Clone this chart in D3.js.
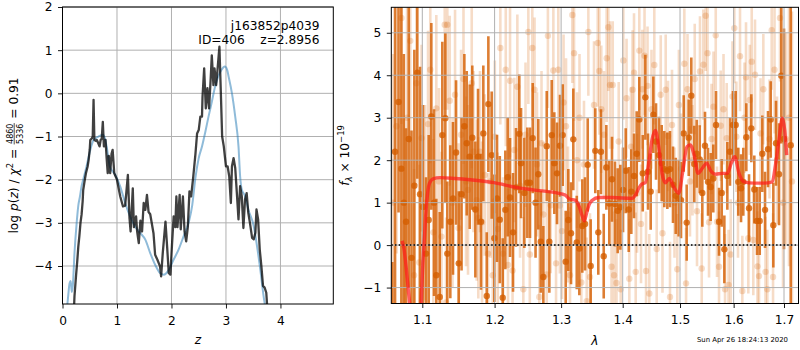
<!DOCTYPE html>
<html>
<head>
<meta charset="utf-8">
<script src="https://cdn.jsdelivr.net/npm/d3@7"></script>
<style>
  html, body { margin: 0; padding: 0; background: #fff; }
  svg { display: block; font-family: "DejaVu Sans", sans-serif; }
</style>
</head>
<body>
<svg id="fig" width="800" height="350"></svg>
<script>
// ---------- redshift fit: log p(z) ----------
const zChi = [0.20,0.22,0.25,0.27,0.29,0.31,0.33,0.35,0.37,0.38,0.41,0.43,0.46,0.48,0.50,0.51,0.54,0.555,0.57,0.585,0.61,0.63,0.655,0.68,0.70,0.72,0.74,0.76,0.79,0.81,0.83,0.85,0.875,0.90,0.92,0.95,1.00,1.06,1.11,1.15,1.20,1.23,1.25,1.29,1.31,1.35,1.37,1.40,1.43,1.46,1.49,1.52,1.55,1.58,1.61,1.67,1.70,1.74,1.79,1.81,1.84,1.89,1.92,1.95,1.98,2.01,2.04,2.07,2.09,2.11,2.15,2.17,2.21,2.24,2.27,2.30,2.33,2.36,2.40,2.44,2.47,2.50,2.53,2.56,2.57,2.60,2.63,2.66,2.69,2.72,2.74,2.77,2.79,2.82,2.845,2.88,2.90,2.93,2.96,3.00,3.03,3.06,3.09,3.11,3.14,3.17,3.20,3.23,3.26,3.29,3.32,3.35,3.38,3.41,3.44,3.48,3.51,3.54,3.56,3.59,3.62,3.65,3.68,3.71,3.74,3.76,3.80];
const logpChi = [-5.3,-4.7,-4.2,-3.9,-3.55,-3.3,-3.0,-2.81,-2.5,-2.24,-2.0,-1.85,-1.7,-1.54,-1.3,-1.08,-1.04,-1.0,-0.15,-1.08,-1.1,-1.08,-1.15,-1.23,-1.08,-1.05,-0.66,-1.23,-1.08,-1.5,-1.85,-1.45,-1.85,-1.4,-1.31,-1.85,-2.0,-2.39,-2.62,-2.6,-1.89,-2.9,-3.2,-2.2,-3.1,-2.85,-3.2,-3.47,-2.95,-3.2,-2.54,-2.7,-2.35,-2.75,-2.8,-3.24,-3.74,-3.85,-4.01,-4.24,-3.7,-2.97,-3.55,-4.16,-4.2,-3.5,-2.85,-3.1,-2.39,-3.1,-2.35,-3.15,-2.39,-3.2,-3.43,-3.1,-2.27,-2.39,-1.93,-1.4,-0.93,-0.85,-0.54,-0.54,-0.08,0.58,-0.35,0.12,-0.35,0.35,0.88,0.19,0.58,0.19,0.55,1.08,0.27,-1.0,-1.23,-1.69,-1.69,-1.92,-2.54,-1.69,-1.5,-1.73,-2.31,-2.92,-2.15,-2.38,-3.12,-2.46,-2.31,-2.77,-3.0,-3.35,-3.38,-3.23,-2.69,-2.92,-3.62,-4.0,-4.46,-4.5,-4.62,-5.0,-5.6];

const zPz = [0.08,0.10,0.13,0.15,0.17,0.19,0.22,0.26,0.29,0.32,0.35,0.38,0.44,0.51,0.57,0.66,0.74,0.78,0.81,0.87,0.97,1.06,1.15,1.24,1.33,1.43,1.52,1.61,1.70,1.79,1.86,1.95,2.04,2.13,2.22,2.32,2.38,2.44,2.50,2.56,2.62,2.68,2.74,2.80,2.86,2.92,2.98,3.02,3.05,3.11,3.17,3.23,3.26,3.29,3.35,3.41,3.51,3.57,3.63,3.69,3.72,3.75];
const logpPz = [-5.0,-4.75,-4.4,-4.35,-4.6,-4.45,-3.7,-3.0,-2.6,-2.39,-2.15,-2.0,-1.7,-1.31,-1.08,-1.0,-0.96,-1.05,-1.23,-1.7,-1.89,-2.16,-2.54,-2.85,-3.08,-3.24,-3.39,-3.7,-3.97,-4.16,-4.2,-4.09,-3.85,-3.62,-3.32,-2.97,-2.6,-1.95,-1.5,-1.23,-0.9,-0.54,-0.2,0.15,0.4,0.55,0.62,0.55,0.38,0.0,-0.54,-1.23,-1.92,-2.23,-2.38,-2.69,-3.08,-3.54,-4.08,-4.69,-4.95,-5.3];

const zTicks = [0, 1, 2, 3, 4];
const logpTicks = [2, 1, 0, -1, -2, -3, -4];

const objName = "j163852p4039";
const objId = 406;
const zBest = "2.8956";
const chi2 = 4860, nDof = 5336, chi2Red = "0.91";
const stamp = "Sun Apr 26 18:24:13 2020";

// ---------- 1D spectrum, flux in 1e-19 cgs ----------
const waveA = [1.061,1.0645,1.069,1.0726,1.0758,1.0787,1.0822,1.0858,1.0895,1.0934,1.0970,1.1009,1.1049,1.1085,1.1120,1.1156,1.1187,1.1233,1.1268,1.1309,1.1336,1.1377,1.1414,1.1456,1.1493,1.1532,1.1571,1.1604,1.1646,1.1682,1.1725,1.1763,1.1805,1.1838,1.1887,1.1910,1.1958,1.1996,1.2035,1.2075,1.2118,1.2156,1.2191,1.2225,1.2269,1.2313,1.2362,1.2388,1.2437,1.2482,1.2522,1.2563,1.2606,1.2648,1.2685,1.2725,1.2777,1.2817,1.2854,1.2894,1.2936,1.2983,1.3025,1.3072,1.3113,1.3156,1.3192,1.3247,1.3288,1.3336,1.3380,1.3423,1.3471,1.3546,1.3595,1.3639,1.3684,1.3727,1.3776,1.3821,1.3871,1.3916,1.3960,1.4006,1.4051,1.4102,1.4146,1.4192,1.4238,1.4283,1.4342,1.4387,1.4433,1.4480,1.4526,1.4573,1.4626,1.4673,1.4719,1.4773,1.4820,1.4874,1.4923,1.4976,1.5018,1.5067,1.5121,1.5158,1.5205,1.5260,1.5305,1.5360,1.5408,1.5458,1.5514,1.5564,1.5613,1.5664,1.5721,1.5772,1.5822,1.5879,1.5930,1.5988,1.6040,1.6090,1.6143,1.6187,1.6246,1.6299,1.6344,1.6403,1.6457,1.6510,1.6562,1.6616,1.6676,1.6730,1.6783,1.6837,1.6898,1.6945,1.7000,1.7138];
const fluxA = [-1.6,2.2,3.37,1.8,1.0,0.55,2.5,-0.3,1.4,4.06,1.2,0.9,-0.2,0.59,3.03,1.0,-0.71,-1.22,2.59,2.99,-0.2,0.55,1.1,2.18,-0.43,1.2,2.8,2.4,2.08,2.53,0.84,2.08,0.55,2.63,-1.2,3.32,2.12,0.16,1.1,0.6,-1.24,0.83,1.6,1.12,0.3,1.36,2.62,1.93,1.23,1.47,1.47,2.52,1.0,1.67,0.08,-0.75,2.33,0.08,2.59,1.93,1.69,2.34,2.59,-0.39,0.59,0.28,2.49,0.06,-0.08,0.45,0.5,1.89,-0.49,2.22,0.3,2.2,-0.26,1.83,0.98,1.55,0.97,0.81,0.89,1.3,1.75,0.84,1.26,1.63,2.15,2.96,1.69,3.48,1.73,1.26,3.07,2.44,2.12,1.93,1.79,1.75,1.79,1.42,1.16,1.1,1.06,2.63,0.53,2.53,3.52,1.91,2.15,2.02,1.23,2.34,1.49,1.37,1.57,2.83,0.55,1.23,-0.1,1.63,2.2,2.83,2.83,1.49,1.34,1.49,2.54,0.87,2.75,1.31,0.57,0.57,2.15,0.83,2.26,2.96,0.47,2.4,1.67,3.99,2.5,2.35];
const errA = [1.2,4.0,2.6,4.0,3.5,2.2,3.5,3.0,3.2,2.5,3.0,2.4,1.8,2.0,2.2,2.2,1.8,2.0,2.2,2.0,1.7,1.8,1.8,1.7,1.7,1.8,1.7,1.7,1.7,1.7,1.6,1.6,1.6,1.6,1.5,1.6,1.5,1.5,1.5,1.5,1.4,1.4,1.4,1.4,1.4,1.4,1.4,1.3,1.3,1.3,1.3,1.3,1.3,1.3,1.2,1.2,1.3,1.2,1.3,1.2,1.2,1.2,1.2,1.2,1.2,1.2,1.2,1.1,1.1,1.1,1.1,1.1,1.1,1.0,1.0,1.0,1.0,1.0,1.0,1.0,1.0,1.0,1.0,1.0,1.0,1.0,1.0,1.0,1.0,1.0,0.9,1.0,0.9,0.9,0.9,0.9,0.9,0.9,0.9,0.9,0.9,0.9,0.9,0.9,0.9,0.9,0.9,0.9,0.9,0.9,0.8,0.8,0.8,0.8,0.8,0.8,0.8,0.8,0.8,0.8,0.8,0.8,0.8,0.8,0.8,0.8,0.8,0.8,0.8,0.8,0.8,0.8,0.8,0.8,0.9,0.9,0.9,0.9,1.0,1.0,1.2,1.6,2.6,4.5,4.5];

const waveB = [1.0619,1.0664,1.0727,1.0761,1.0800,1.0842,1.0891,1.0921,1.0960,1.0990,1.1036,1.1076,1.1106,1.1147,1.1187,1.1223,1.1257,1.1301,1.1319,1.1336,1.1369,1.1407,1.1442,1.1490,1.1525,1.1559,1.1594,1.1622,1.1674,1.1699,1.1744,1.1767,1.1791,1.1820,1.1858,1.1905,1.1941,1.1973,1.2003,1.2045,1.2083,1.2122,1.2162,1.2195,1.2225,1.2262,1.2288,1.2333,1.2373,1.2422,1.2455,1.2497,1.2519,1.2557,1.2591,1.2628,1.2663,1.2697,1.2725,1.2777,1.2795,1.2838,1.2879,1.2921,1.2956,1.2980,1.3014,1.3038,1.3077,1.3108,1.3140,1.3177,1.3204,1.3251,1.3291,1.3320,1.3363,1.3407,1.3433,1.3460,1.3525,1.3586,1.3612,1.3644,1.3689,1.3733,1.3760,1.3788,1.3813,1.3833,1.3855,1.3896,1.3933,1.3967,1.4011,1.4065,1.4112,1.4141,1.4167,1.4192,1.4221,1.4244,1.4283,1.4312,1.4335,1.4373,1.4399,1.4425,1.4456,1.4494,1.4543,1.4585,1.4656,1.4687,1.4744,1.4785,1.4820,1.4856,1.4901,1.4951,1.4980,1.5018,1.5078,1.5109,1.5136,1.5181,1.5227,1.5268,1.5310,1.5365,1.5397,1.5427,1.5471,1.5505,1.5533,1.5580,1.5617,1.5659,1.5683,1.5721,1.5753,1.5806,1.5835,1.5867,1.5902,1.5944,1.5978,1.6013,1.6052,1.6084,1.6123,1.6168,1.6211,1.6240,1.6285,1.6314,1.6352,1.6383,1.6417,1.6466,1.6496,1.6526,1.6582,1.6626,1.6662,1.6706,1.6750,1.6777,1.6807,1.6857,1.6918,1.6980,1.7041,1.7103,1.7164];
const fluxB = [1.0,2.8,5.35,0.0,3.0,4.81,-0.71,3.81,-0.41,2.52,1.0,2.85,4.13,0.3,3.22,1.5,0.2,5.19,-1.35,5.19,3.4,1.0,3.54,0.4,2.6,3.91,1.5,1.3,3.81,2.2,1.06,0.64,2.2,0.54,1.65,-0.2,1.5,-0.71,2.55,0.38,4.64,-0.2,4.13,-0.47,3.87,-0.6,2.24,3.73,1.4,-1.04,2.6,5.02,-0.22,4.64,3.66,1.9,-1.22,2.4,0.72,-0.69,4.93,0.94,4.11,-0.43,4.13,0.93,0.33,3.36,2.8,0.72,-0.71,5.42,4.52,2.0,3.0,-0.88,1.9,-1.32,5.02,-0.75,3.3,4.76,4.1,3.2,2.6,4.4,5.13,3.77,-0.51,3.77,-0.71,-0.89,2.44,-1.04,4.35,3.46,-0.79,2.32,3.66,4.06,-0.63,1.22,4.58,0.5,3.67,4.46,-0.61,3.75,-1.14,3.2,4.24,-0.09,3.54,0.28,3.66,2.57,-1.22,2.83,1.0,-0.57,3.3,1.8,4.27,-0.9,3.67,1.5,2.0,3.91,0.8,4.09,-0.55,4.25,5.4,4.52,0.54,2.5,3.26,4.94,0.55,-0.51,2.81,3.2,-1.04,2.52,-0.94,-0.22,3.5,5.11,2.55,1.0,4.45,-1.08,3.0,3.95,0.16,3.42,4.32,0.12,4.01,-0.5,-0.73,2.63,3.67,-0.63,-1.04,2.5,5.06,-0.75,4.13,2.0,5.35,1.0,2.5,3.0,1.5];
const errB = [3.5,3.0,2.5,3.0,3.0,2.4,2.5,2.4,2.3,2.2,2.3,2.2,2.2,2.2,2.2,2.2,2.0,2.0,2.0,2.0,2.0,2.0,2.0,2.0,2.0,2.0,2.0,2.0,2.0,1.9,1.9,1.9,1.9,1.9,1.9,1.9,1.8,1.8,1.8,1.8,1.8,1.8,1.8,1.8,1.8,1.7,1.7,1.7,1.7,1.7,1.7,1.7,1.7,1.7,1.7,1.7,1.7,1.7,1.7,1.7,1.7,1.6,1.6,1.6,1.6,1.6,1.6,1.6,1.6,1.6,1.6,1.6,1.6,1.6,1.5,1.5,1.5,1.5,1.5,1.5,1.5,1.5,1.5,1.5,1.5,1.5,1.5,1.5,1.5,1.5,1.5,1.5,1.4,1.4,1.4,1.4,1.4,1.4,1.4,1.4,1.4,1.4,1.4,1.4,1.4,1.4,1.4,1.4,1.4,1.4,1.4,1.4,1.4,1.4,1.3,1.3,1.3,1.3,1.3,1.3,1.3,1.3,1.3,1.3,1.3,1.3,1.3,1.3,1.3,1.3,1.3,1.3,1.3,1.3,1.3,1.3,1.3,1.3,1.3,1.3,1.3,1.3,1.3,1.3,1.3,1.3,1.3,1.3,1.3,1.3,1.3,1.3,1.3,1.3,1.3,1.3,1.3,1.3,1.3,1.3,1.3,1.3,1.3,1.3,1.4,1.4,1.4,1.5,1.5,1.5,1.5,2.0,2.5,3.5,4.0,4.0,4.0];

// best-fit template model
const waveModel = [1.0735,1.0761,1.0787,1.0813,1.0838,1.0878,1.0917,1.0957,1.0983,1.1003,1.1029,1.1049,1.1069,1.1096,1.1143,1.1237,1.1442,1.1650,1.1992,1.2313,1.2568,1.2931,1.3061,1.3140,1.3219,1.3288,1.3331,1.3368,1.3404,1.3444,1.3493,1.3602,1.3821,1.4158,1.4226,1.4278,1.4329,1.4387,1.4445,1.4503,1.4561,1.4620,1.4679,1.4737,1.4808,1.4887,1.4976,1.5049,1.5127,1.5187,1.5260,1.5329,1.5408,1.5490,1.5564,1.5659,1.5783,1.5879,1.5955,1.6021,1.6104,1.6201,1.6397,1.6596,1.6762,1.6831,1.6898,1.6965,1.7014,1.7055];
const fluxModel = [0.1,-0.1,-0.5,-1.0,-1.5,-3.5,-5.0,-3.5,-1.5,-0.6,0.2,0.8,1.2,1.46,1.56,1.59,1.57,1.54,1.47,1.36,1.3,1.23,1.18,1.08,1.06,0.9,0.7,0.57,0.75,0.95,1.05,1.12,1.12,1.1,1.2,1.35,1.44,1.47,1.93,2.48,2.7,2.32,1.69,1.47,1.57,1.37,1.22,1.73,2.32,2.36,2.1,1.69,1.81,1.93,1.75,1.67,1.69,1.69,1.93,2.08,1.69,1.49,1.46,1.46,1.49,1.93,2.48,2.99,2.71,2.12];

const waveTicks = [1.1, 1.2, 1.3, 1.4, 1.5, 1.6, 1.7];
const fluxTicks = [-1, 0, 1, 2, 3, 4, 5];

// ---------- drawing ----------
const FS = 12.2;
const svg = d3.select("#fig");
const ORANGE = "#d55e00";

const L = { x0: 62.5, x1: 333.3, y0: 7, y1: 304 };
const R = { x0: 391.3, x1: 798.5, y0: 7.3, y1: 303.5 };

const xz = d3.scaleLinear().domain([0, 4.97]).range([L.x0, L.x1]);
const yl = d3.scaleLinear().domain([-4.88, 2]).range([L.y1, L.y0]);
const xw = d3.scaleLog().domain([1.0597, 1.7299]).range([R.x0, R.x1]);
const yf = d3.scaleLinear().domain([-1.375, 5.6]).range([R.y1, R.y0]);

const defs = svg.append("defs");
function clip(id, b) {
  defs.append("clipPath").attr("id", id).append("rect")
    .attr("x", b.x0).attr("y", b.y0).attr("width", b.x1 - b.x0).attr("height", b.y1 - b.y0);
}
clip("clipL", L); clip("clipR", R);

function grid(g, xs, ys, xv, yv, b) {
  g.selectAll(null).data(xv).enter().append("line")
    .attr("x1", d => xs(d)).attr("x2", d => xs(d)).attr("y1", b.y0).attr("y2", b.y1)
    .attr("stroke", "#b0b0b0").attr("stroke-width", 1);
  g.selectAll(null).data(yv).enter().append("line")
    .attr("x1", b.x0).attr("x2", b.x1).attr("y1", d => ys(d)).attr("y2", d => ys(d))
    .attr("stroke", "#b0b0b0").attr("stroke-width", 1);
}

function axes(xs, ys, xv, yv, b, xfmt, yfmt) {
  const ax = d3.axisBottom(xs).tickValues(xv).tickFormat(xfmt).tickSize(4.5).tickPadding(7.5);
  const ay = d3.axisLeft(ys).tickValues(yv).tickFormat(yfmt).tickSize(4.5).tickPadding(5.5);
  const gx = svg.append("g").attr("transform", `translate(0,${b.y1})`).call(ax);
  const gy = svg.append("g").attr("transform", `translate(${b.x0},0)`).call(ay);
  [gx, gy].forEach(g => {
    g.select(".domain").remove();
    g.selectAll("text").attr("font-size", FS).attr("font-family", "DejaVu Sans").attr("fill", "#000");
    g.selectAll("line").attr("stroke", "#000").attr("stroke-width", 0.9);
  });
  svg.append("rect").attr("x", b.x0).attr("y", b.y0)
    .attr("width", b.x1 - b.x0).attr("height", b.y1 - b.y0)
    .attr("fill", "none").attr("stroke", "#000").attr("stroke-width", 1);
}

// ----- left panel -----
const gl = svg.append("g");
grid(gl, xz, yl, zTicks, logpTicks, L);
const cl = gl.append("g").attr("clip-path", "url(#clipL)");
cl.append("path").datum(d3.zip(zPz, logpPz))
  .attr("d", d3.line().x(d => xz(d[0])).y(d => yl(d[1])).curve(d3.curveMonotoneX))
  .attr("fill", "none").attr("stroke", "#1f77b4").attr("stroke-opacity", 0.5).attr("stroke-width", 2);
cl.append("path").datum(d3.zip(zChi, logpChi))
  .attr("d", d3.line().x(d => xz(d[0])).y(d => yl(d[1])))
  .attr("fill", "none").attr("stroke", "#000").attr("stroke-opacity", 0.75)
  .attr("stroke-width", 2.3).attr("stroke-linejoin", "round");
axes(xz, yl, zTicks, logpTicks, L, d3.format("d"), d3.format("d"));

svg.append("text").attr("x", 319.5).attr("y", 29.5).attr("text-anchor", "end")
  .attr("font-size", FS).text(objName);
svg.append("text").attr("x", 319.5).attr("y", 44).attr("text-anchor", "end")
  .attr("font-size", FS).style("white-space", "pre").text(`ID=${objId}    z=${zBest}`);

// ----- right panel -----
const gr = svg.append("g").attr("clip-path", "url(#clipR)");
function errSeries(g, w, f, e, op) {
  const data = d3.range(w.length).map(i => ({ w: w[i], f: f[i], e: e[i] }));
  g.append("g").selectAll("line").data(data).enter().append("line")
    .attr("x1", d => xw(d.w)).attr("x2", d => xw(d.w))
    .attr("y1", d => yf(d.f - d.e)).attr("y2", d => yf(d.f + d.e))
    .attr("stroke", ORANGE).attr("stroke-opacity", op).attr("stroke-width", 2.6);
  g.append("g").selectAll("circle").data(data).enter().append("circle")
    .attr("cx", d => xw(d.w)).attr("cy", d => yf(d.f)).attr("r", 3.2)
    .attr("fill", ORANGE).attr("fill-opacity", op);
}
errSeries(gr, waveB, fluxB, errB, 0.22);
errSeries(gr, waveA, fluxA, errA, 0.8);
grid(gr, xw, yf, waveTicks, fluxTicks, R);
gr.append("line").attr("x1", R.x0).attr("x2", R.x1).attr("y1", yf(0)).attr("y2", yf(0))
  .attr("stroke", "#000").attr("stroke-width", 1.5).attr("stroke-dasharray", "1.5,2.2");
gr.append("path").datum(d3.zip(waveModel, fluxModel))
  .attr("d", d3.line().x(d => xw(d[0])).y(d => yf(d[1])).curve(d3.curveMonotoneX))
  .attr("fill", "none").attr("stroke", "#ff1a1a").attr("stroke-opacity", 0.7)
  .attr("stroke-width", 3.4).attr("stroke-linejoin", "round");
axes(xw, yf, waveTicks, fluxTicks, R, d3.format(".1f"), d3.format("d"));

// ----- axis labels -----
svg.append("text").attr("x", (L.x0 + L.x1) / 2).attr("y", 344).attr("text-anchor", "middle")
  .attr("font-size", FS).attr("font-style", "italic").text("z");
svg.append("text").attr("x", (R.x0 + R.x1) / 2).attr("y", 345).attr("text-anchor", "middle")
  .attr("font-size", FS).attr("font-style", "italic").text("λ");

function seq(parent, segs, x0) {
  let x = x0;
  segs.forEach(s => {
    const t = parent.append("text").attr("x", x).attr("y", s.dy || 0)
      .attr("font-size", s.size || FS).attr("font-style", s.it ? "italic" : "normal")
      .style("white-space", "pre").text(s.t);
    x += t.node().getComputedTextLength();
  });
  return x;
}

// left y label: log p(z) / chi^2 = a/b = r
(function () {
  const outer = svg.append("g").attr("transform", `translate(18,${(L.y0 + L.y1) / 2}) rotate(-90)`);
  const g = outer.append("g");
  let x = seq(g, [
    { t: "log " }, { t: "p", it: true }, { t: "(" }, { t: "z", it: true }, { t: ") / " },
    { t: "χ", it: true }, { t: "2", size: 8.5, dy: -5 }, { t: " = " }
  ], 0);
  const fs = 8;
  const num = g.append("text").attr("font-size", fs).attr("y", -5.5).attr("text-anchor", "middle").text(chi2);
  const den = g.append("text").attr("font-size", fs).attr("y", 4.5).attr("text-anchor", "middle").text(nDof);
  const wf = Math.max(num.node().getComputedTextLength(), den.node().getComputedTextLength()) + 2;
  num.attr("x", x + wf / 2); den.attr("x", x + wf / 2);
  g.append("line").attr("x1", x + 0.5).attr("x2", x + wf - 0.5).attr("y1", -3.8).attr("y2", -3.8)
    .attr("stroke", "#000").attr("stroke-width", 0.7);
  x = seq(g, [{ t: " = " + chi2Red }], x + wf);
  g.attr("transform", `translate(${-x / 2},0)`);
})();

// right y label: f_lambda x 10^-19
(function () {
  const outer = svg.append("g").attr("transform", `translate(349,${(R.y0 + R.y1) / 2}) rotate(-90)`);
  const g = outer.append("g");
  const x = seq(g, [
    { t: "f", it: true }, { t: "λ", it: true, size: 8.5, dy: 2.5 }, { t: " × 10" },
    { t: "−19", size: 8.5, dy: -5.5 }
  ], 0);
  g.attr("transform", `translate(${-x / 2},0)`);
})();

svg.append("text").attr("x", 788).attr("y", 342).attr("text-anchor", "end")
  .attr("font-size", 6.9).text(stamp);
</script>
</body>
</html>
